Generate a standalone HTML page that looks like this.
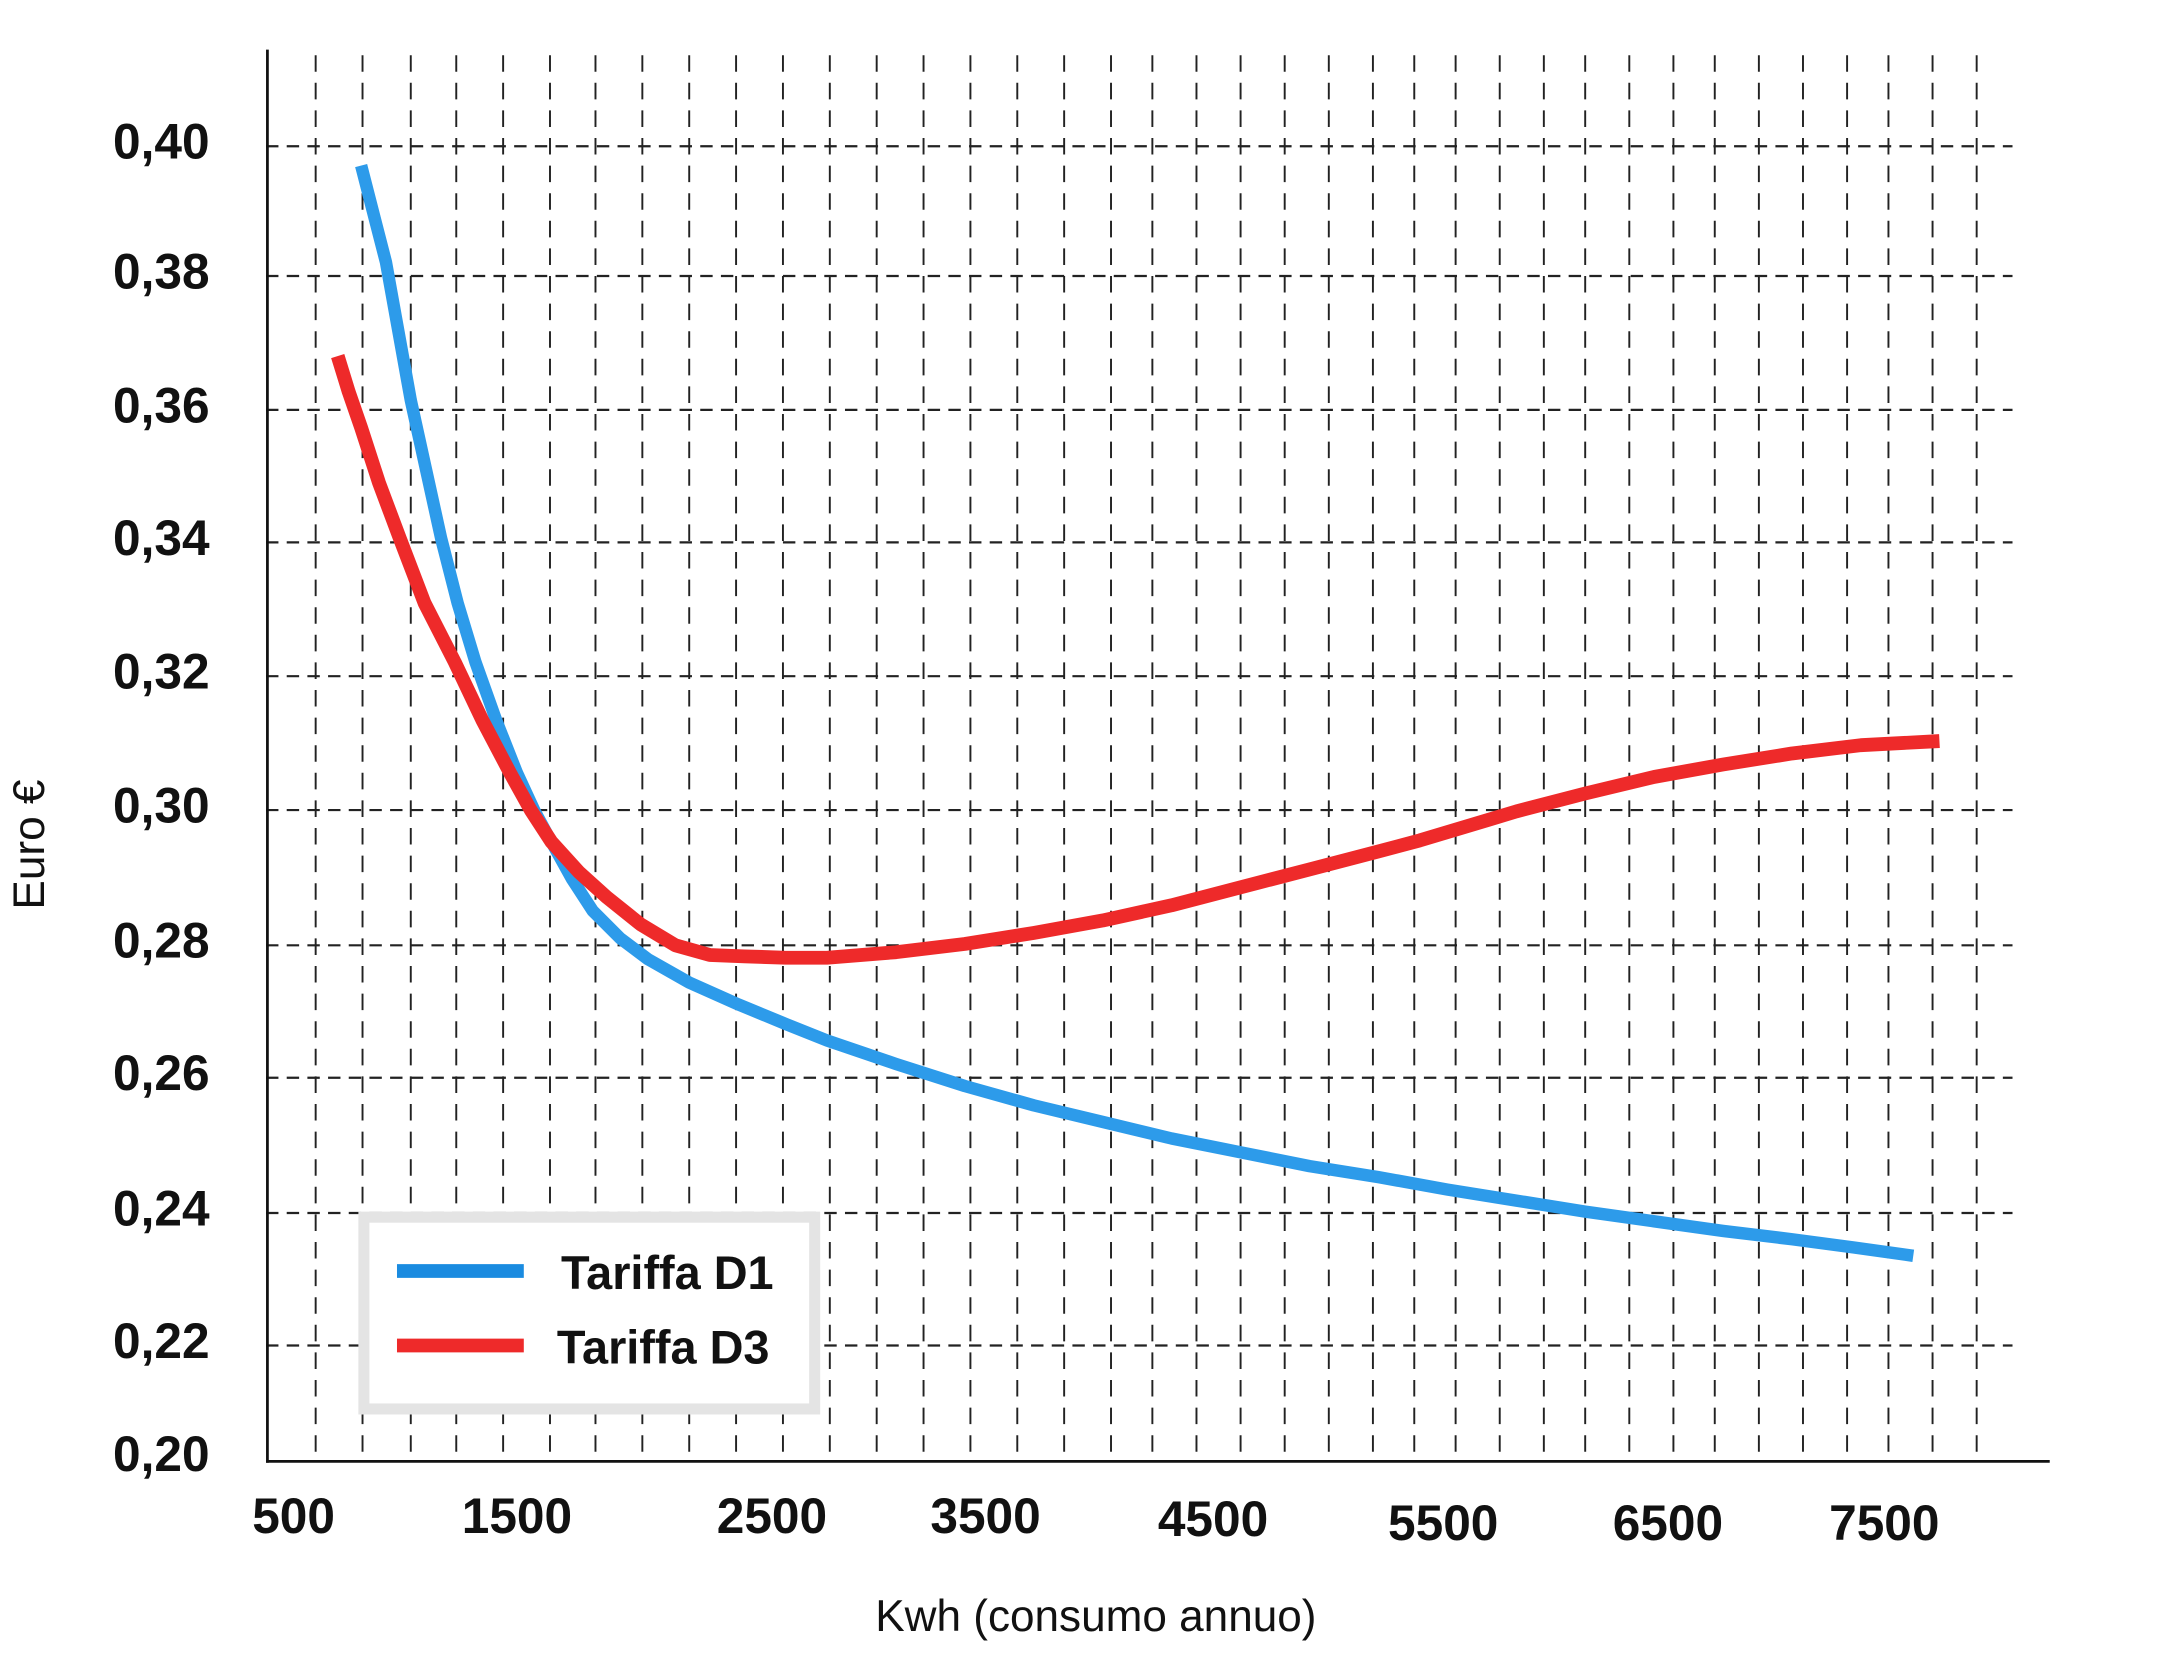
<!DOCTYPE html>
<html><head><meta charset="utf-8"><style>
html,body{margin:0;padding:0;background:#fff;}
svg{display:block;}
text{font-family:"Liberation Sans",sans-serif;fill:#111;}
</style></head><body>
<svg width="2160" height="1656" viewBox="0 0 1567 1200" preserveAspectRatio="none" xmlns="http://www.w3.org/2000/svg">
<rect width="1567" height="1200" fill="#fff"/>
<g stroke="#222" stroke-width="1.6" stroke-dasharray="9,6" fill="none">
<line x1="193" y1="106" x2="1460" y2="106"/>
<line x1="193" y1="200" x2="1460" y2="200"/>
<line x1="193" y1="297" x2="1460" y2="297"/>
<line x1="193" y1="393" x2="1460" y2="393"/>
<line x1="193" y1="490" x2="1460" y2="490"/>
<line x1="193" y1="587" x2="1460" y2="587"/>
<line x1="193" y1="685" x2="1460" y2="685"/>
<line x1="193" y1="781" x2="1460" y2="781"/>
<line x1="193" y1="879" x2="1460" y2="879"/>
<line x1="193" y1="975" x2="1460" y2="975"/>
</g>
<g stroke="#222" stroke-width="1.4" stroke-dasharray="12,8" fill="none">
<line x1="229" y1="40" x2="229" y2="1059"/><line x1="263" y1="40" x2="263" y2="1059"/>
<line x1="298" y1="40" x2="298" y2="1059"/><line x1="331" y1="40" x2="331" y2="1059"/>
<line x1="365" y1="40" x2="365" y2="1059"/><line x1="399" y1="40" x2="399" y2="1059"/>
<line x1="432" y1="40" x2="432" y2="1059"/><line x1="466" y1="40" x2="466" y2="1059"/>
<line x1="500" y1="40" x2="500" y2="1059"/><line x1="534" y1="40" x2="534" y2="1059"/>
<line x1="568" y1="40" x2="568" y2="1059"/><line x1="602" y1="40" x2="602" y2="1059"/>
<line x1="636" y1="40" x2="636" y2="1059"/><line x1="670" y1="40" x2="670" y2="1059"/>
<line x1="704" y1="40" x2="704" y2="1059"/><line x1="738" y1="40" x2="738" y2="1059"/>
<line x1="772" y1="40" x2="772" y2="1059"/><line x1="806" y1="40" x2="806" y2="1059"/>
<line x1="836" y1="40" x2="836" y2="1059"/><line x1="868" y1="40" x2="868" y2="1059"/>
<line x1="900" y1="40" x2="900" y2="1059"/><line x1="932" y1="40" x2="932" y2="1059"/>
<line x1="964" y1="40" x2="964" y2="1059"/><line x1="996" y1="40" x2="996" y2="1059"/>
<line x1="1026" y1="40" x2="1026" y2="1059"/><line x1="1056" y1="40" x2="1056" y2="1059"/>
<line x1="1088" y1="40" x2="1088" y2="1059"/><line x1="1120" y1="40" x2="1120" y2="1059"/>
<line x1="1150" y1="40" x2="1150" y2="1059"/><line x1="1182" y1="40" x2="1182" y2="1059"/>
<line x1="1214" y1="40" x2="1214" y2="1059"/><line x1="1244" y1="40" x2="1244" y2="1059"/>
<line x1="1276" y1="40" x2="1276" y2="1059"/><line x1="1308" y1="40" x2="1308" y2="1059"/>
<line x1="1340" y1="40" x2="1340" y2="1059"/><line x1="1370" y1="40" x2="1370" y2="1059"/>
<line x1="1402" y1="40" x2="1402" y2="1059"/><line x1="1434" y1="40" x2="1434" y2="1059"/>
</g>
<line x1="194" y1="36" x2="194" y2="1060" stroke="#111" stroke-width="2"/>
<line x1="193" y1="1059" x2="1487" y2="1059" stroke="#111" stroke-width="2"/>
<g font-size="36" font-weight="bold">
<text x="82" y="115">0,40</text><text x="82" y="209">0,38</text><text x="82" y="306">0,36</text>
<text x="82" y="402">0,34</text><text x="82" y="499">0,32</text><text x="82" y="596">0,30</text>
<text x="82" y="694">0,28</text><text x="82" y="790">0,26</text><text x="82" y="888">0,24</text>
<text x="82" y="984">0,22</text><text x="82" y="1066">0,20</text>
</g>
<g font-size="36" font-weight="bold" text-anchor="middle">
<text x="213" y="1111">500</text><text x="375" y="1111">1500</text><text x="560" y="1111">2500</text>
<text x="715" y="1111">3500</text><text x="880" y="1113">4500</text><text x="1047" y="1116">5500</text>
<text x="1210" y="1116">6500</text><text x="1367" y="1116">7500</text>
</g>
<text x="795" y="1182" font-size="32" text-anchor="middle">Kwh (consumo annuo)</text>
<text transform="translate(32,612) rotate(-90)" font-size="32" text-anchor="middle">Euro €</text>
<polyline fill="none" stroke="#2d9bea" stroke-width="9" stroke-linejoin="round" points="262,120 271,155 280,190 289,240 298,290 309,340 320,390 332,437 345,480 360,522 375,560 388,588 400,610 415,637 430,660 450,680 470,695 500,712 536,728 570,742 600,754 650,771 700,787 750,801 800,813 850,825 900,835 950,845 1000,853 1050,862 1100,870 1150,878 1200,885 1250,892 1300,898 1345,904 1388,910"/>
<polyline fill="none" stroke="#ee2a2a" stroke-width="10" stroke-linejoin="round" points="245,258 253,284 262,310 275,350 290,390 308,437 330,480 350,522 370,560 385,587 400,610 420,632 440,650 465,670 490,685 515,692 540,693 570,694 600,694 650,690 700,684 750,676 800,667 850,656 900,643 950,630 1000,617 1030,609 1060,600 1080,594 1100,588 1150,575 1200,563 1250,554 1300,546 1350,540 1407,537"/>
<rect x="264" y="882" width="327" height="139" fill="#fff" stroke="#e4e4e4" stroke-width="8"/>
<line x1="288" y1="921" x2="380" y2="921" stroke="#1a8be0" stroke-width="10"/>
<line x1="288" y1="975" x2="380" y2="975" stroke="#ee2a2a" stroke-width="10"/>
<text x="407" y="934" font-size="34" font-weight="bold">Tariffa D1</text>
<text x="404" y="988" font-size="34" font-weight="bold">Tariffa D3</text>
</svg>
</body></html>
